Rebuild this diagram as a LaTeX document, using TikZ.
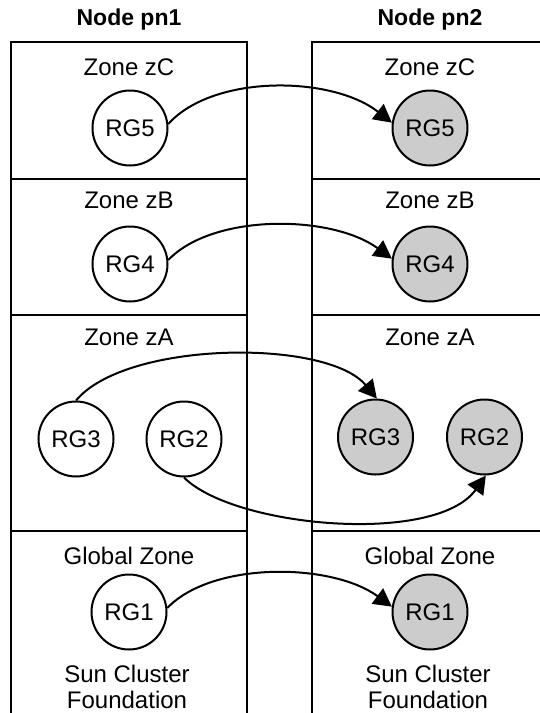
\documentclass[tikz,border=0pt]{standalone}
\usepackage{fontspec}
\setmainfont{Liberation Sans}
\usetikzlibrary{arrows.meta}
\definecolor{rgfill}{HTML}{CCCCCC}
\begin{document}
\begin{tikzpicture}[x=1pt,y=-1pt,
  frame/.style={line width=2pt},
  lbl/.style={anchor=base, inner sep=0pt, font=\fontsize{24}{28}\selectfont},
  ttl/.style={anchor=base, inner sep=0pt, font=\fontsize{23}{27}\selectfont\bfseries},
  rg/.style={circle, draw, line width=2pt, minimum size=75pt, inner sep=0pt, font=\fontsize{24}{28}\selectfont},
  rgb/.style={rg, fill=rgfill},
  mv/.style={line width=2pt, -{Triangle[length=18pt,width=19pt]}}]
\useasboundingbox (0,0) rectangle (540,713);
% frames
\draw[frame] (11,714) -- (11,42) -- (246.5,42) -- (246.5,714);
\draw[frame] (312,714) -- (312,42) -- (542,42);
\foreach \yy in {178.5,314.5,531} {
  \draw[frame] (11,\yy) -- (246.5,\yy);
  \draw[frame] (312,\yy) -- (542,\yy);
}
% titles
\node[ttl] (t1) at (129,25) {Node pn1};
\node[ttl] (t2) at (430,25) {Node pn2};
% zone labels
\node[lbl] (zc1) at (129,75) {Zone zC};
\node[lbl] (zc2) at (430,75) {Zone zC};
\node[lbl] (zb1) at (129,208.5) {Zone zB};
\node[lbl] (zb2) at (430,208.5) {Zone zB};
\node[lbl] (za1) at (129,345) {Zone zA};
\node[lbl] (za2) at (430,345) {Zone zA};
\node[lbl] (g1) at (129,564) {Global Zone};
\node[lbl] (g2) at (430,564) {Global Zone};
\node[lbl] (s1) at (127,682.5) {Sun Cluster};
\node[lbl] (f1) at (127,708.5) {Foundation};
\node[lbl] (s2) at (428,682.5) {Sun Cluster};
\node[lbl] (f2) at (428,708.5) {Foundation};
% resource groups
\node[rg]  (l5) at (130,128) {RG5};
\node[rgb] (r5) at (430,128) {RG5};
\node[rg]  (l4) at (130,264) {RG4};
\node[rgb] (r4) at (430,264) {RG4};
\node[rg]  (l3) at (76,439) {RG3};
\node[rg]  (l2) at (184,439) {RG2};
\node[rgb] (r3) at (375.5,437) {RG3};
\node[rgb] (r2) at (484.5,437) {RG2};
\node[rg]  (l1) at (129,612) {RG1};
\node[rgb] (r1) at (430,612) {RG1};
% migrations
\draw[mv] (l5.6) .. controls +(45,-50) and +(-60,-47) .. (r5.172);
\draw[mv] (l4.6) .. controls +(45,-47) and +(-60,-44) .. (r4.172);
\draw[mv] (l1.6) .. controls +(45,-47) and +(-60,-44) .. (r1.172);
\draw[mv] (l3.90) .. controls +(50,-60) and +(-50,-60) .. (r3.88);
\draw[mv] (l2.-90) .. controls +(50,50) and +(-50,70) .. (r2.-88);
\end{tikzpicture}
\end{document}
